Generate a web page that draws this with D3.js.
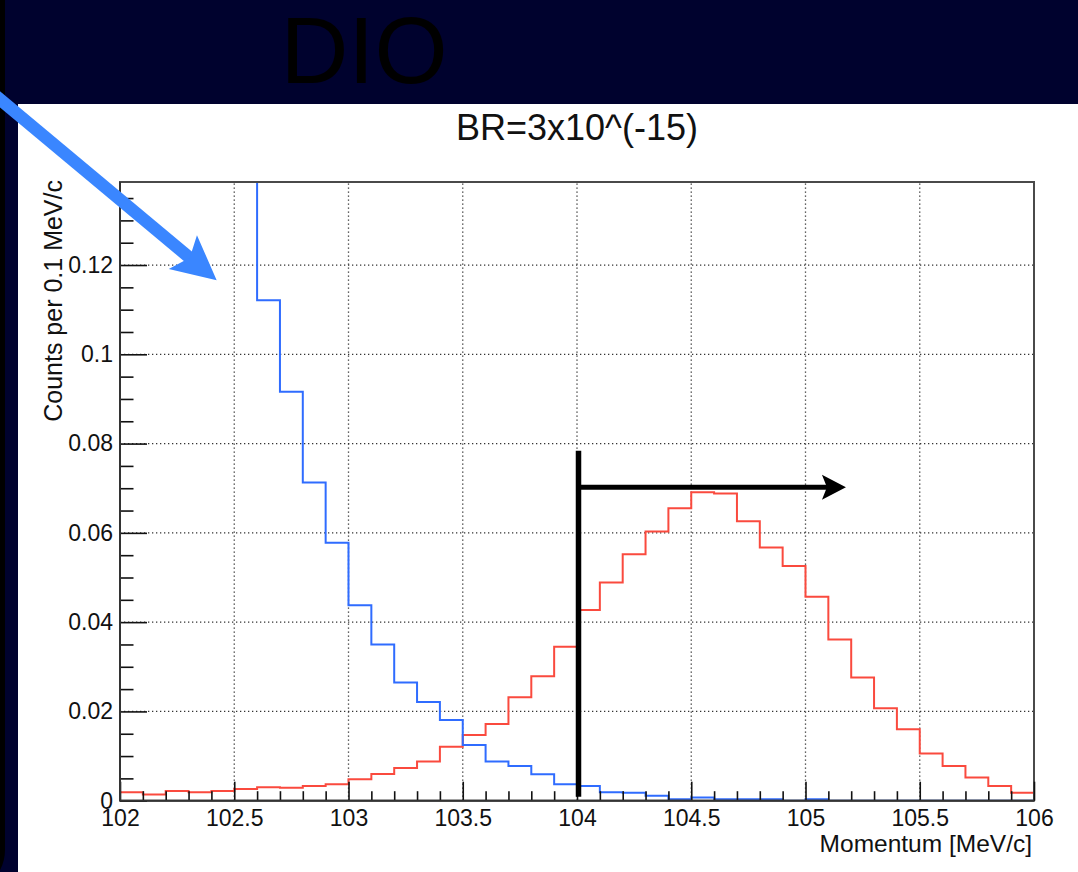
<!DOCTYPE html>
<html>
<head>
<meta charset="utf-8">
<script src="https://cdn.jsdelivr.net/npm/d3@7"></script>
<style>
  html, body { margin: 0; padding: 0; background: #fff; }
  svg { display: block; }
  text { font-family: "Liberation Sans", Arial, Helvetica, sans-serif; }
</style>
</head>
<body>
<script>
// ---------------- data ----------------
const binEdgesStart = 102.0;   // first bin low edge (MeV/c)
const binWidth = 0.1;          // MeV/c
const nBins = 40;

// DIO background (blue) – counts per 0.1 MeV/c, bins 102.0 .. 105.9 (first bins are off-scale)
const dioCounts = [
  0.35, 0.30, 0.25, 0.205, 0.17, 0.142,
  0.1121, 0.0916, 0.0713, 0.0578,
  0.0438, 0.0350, 0.0265, 0.0221, 0.0181,
  0.0125, 0.0088, 0.0078, 0.0059, 0.0037,
  0.0033, 0.0019, 0.0018, 0.0011, 0.0003,
  0.0007, 0.0003, 0.0003, 0.0003, 0.0,
  0.0003, 0.0, 0.0, 0.0, 0.0,
  0.0, 0.0, 0.0, 0.0, 0.0
];

// Conversion signal (red), BR = 3x10^-15
const signalCounts = [
  0.0019, 0.0014, 0.0022, 0.0019, 0.0022,
  0.0026, 0.0030, 0.0029, 0.0033, 0.0037,
  0.0048, 0.0060, 0.0073, 0.0088, 0.0121,
  0.0147, 0.0172, 0.0232, 0.0279, 0.0345,
  0.0427, 0.0489, 0.0552, 0.0603, 0.0655,
  0.0691, 0.0688, 0.0626, 0.0567, 0.0526,
  0.0457, 0.0361, 0.0276, 0.0207, 0.0160,
  0.0106, 0.0078, 0.0052, 0.0033, 0.0018
];

const xMajorTicks = [102, 102.5, 103, 103.5, 104, 104.5, 105, 105.5, 106];
const xTickLabels = ["102", "102.5", "103", "103.5", "104", "104.5", "105", "105.5", "106"];
const yMajorTicks = [0, 0.02, 0.04, 0.06, 0.08, 0.1, 0.12];
const yTickLabels = ["0", "0.02", "0.04", "0.06", "0.08", "0.1", "0.12"];
const xDomain = [102, 106];
const yDomain = [0, 0.1386];

const slideTitle = "DIO";
const plotTitle = "BR=3x10^(-15)";
const xTitle = "Momentum [MeV/c]";
const yTitle = "Counts per 0.1 MeV/c";

// annotations (data coordinates)
const cutMomentum = 104.0;
const cutLineRange = [0.0009, 0.0784];
const cutArrowLevel = 0.0702;
const cutArrowEnd = 105.177;
const dioArrowFrom = [101.43, 0.159];
const dioArrowTo = [102.423, 0.1166];

// ---------------- layout ----------------
const W = 1078, H = 872;
const plot = { left: 120, right: 1034, top: 182, bottom: 800.7 };

const svg = d3.select("body").append("svg").attr("width", W).attr("height", H);
svg.append("rect").attr("width", W).attr("height", H).attr("fill", "#fff");

const x = d3.scaleLinear().domain(xDomain).range([plot.left, plot.right]);
const y = d3.scaleLinear().domain(yDomain).range([plot.bottom, plot.top]);

// slide decoration: dark banner + left strip
svg.append("rect").attr("x", 0).attr("y", 0).attr("width", W).attr("height", 104).attr("fill", "#00022e");
svg.append("rect").attr("x", 0).attr("y", 0).attr("width", 18).attr("height", H).attr("fill", "#00022e");
svg.append("path")
  .attr("d", "M2.5,0 L2.5,850 Q2.5,862 -4,872")
  .attr("fill", "none").attr("stroke", "#000").attr("stroke-width", 5);

svg.append("text")
  .attr("x", 364).attr("y", 83)
  .attr("text-anchor", "middle")
  .attr("font-size", 94)
  .attr("fill", "#000")
  .text(slideTitle);

// plot title
svg.append("text")
  .attr("x", (plot.left + plot.right) / 2).attr("y", 140)
  .attr("text-anchor", "middle")
  .attr("font-size", 36)
  .attr("fill", "#111")
  .text(plotTitle);

// grid
const grid = svg.append("g").attr("stroke", "#333").attr("stroke-width", 1.3).attr("stroke-dasharray", "1.3,2.7");
xMajorTicks.filter(v => v > xDomain[0] && v < xDomain[1]).forEach(v => {
  grid.append("line").attr("x1", x(v)).attr("x2", x(v)).attr("y1", plot.bottom).attr("y2", plot.top);
});
yMajorTicks.filter(v => v > yDomain[0]).forEach(v => {
  grid.append("line").attr("y1", y(v)).attr("y2", y(v)).attr("x1", plot.left).attr("x2", plot.right);
});

// histograms
svg.append("clipPath").attr("id", "plotclip")
  .append("rect").attr("x", plot.left).attr("y", plot.top)
  .attr("width", plot.right - plot.left).attr("height", plot.bottom - plot.top);

function stepPoints(vals) {
  const pts = [];
  vals.forEach((v, i) => {
    const lo = binEdgesStart + i * binWidth;
    const hi = binEdgesStart + (i + 1) * binWidth;
    pts.push([lo, v], [hi, v]);
  });
  return pts;
}
const line = d3.line().x(d => x(d[0])).y(d => y(d[1]));
const hg = svg.append("g").attr("clip-path", "url(#plotclip)").attr("fill", "none").attr("stroke-width", 2);
hg.append("path").attr("d", line(stepPoints(signalCounts))).attr("stroke", "#fa4a3e");
hg.append("path").attr("d", line(stepPoints(dioCounts))).attr("stroke", "#2f6cff");

// frame
svg.append("rect")
  .attr("x", plot.left).attr("y", plot.top)
  .attr("width", plot.right - plot.left).attr("height", plot.bottom - plot.top)
  .attr("fill", "none").attr("stroke", "#4a4a4a").attr("stroke-width", 2);

// axes
const xMinor = d3.range(0, nBins + 1).map(i => binEdgesStart + i * binWidth)
  .filter(v => !xMajorTicks.some(m => Math.abs(m - v) < 1e-6));
const yMinor = d3.range(0, 28).map(i => i * 0.005)
  .filter(v => v <= yDomain[1] && !yMajorTicks.some(m => Math.abs(m - v) < 1e-6));

function styleAxis(g) {
  g.select(".domain").remove();
  g.selectAll(".tick line").attr("stroke", "#111").attr("stroke-width", 1.6);
  g.selectAll(".tick text").attr("fill", "#111").attr("font-size", 23)
    .style("font-family", "'Liberation Sans', Arial, sans-serif");
}

svg.append("g").attr("transform", `translate(0,${plot.bottom})`)
  .call(d3.axisBottom(x).tickValues(xMajorTicks).tickSize(-19).tickPadding(9)
    .tickFormat((d, i) => xTickLabels[i]))
  .call(styleAxis);
svg.append("g").attr("transform", `translate(0,${plot.bottom})`)
  .call(d3.axisBottom(x).tickValues(xMinor).tickSize(-9.5).tickFormat(""))
  .call(styleAxis);

svg.append("g").attr("transform", `translate(${plot.left},0)`)
  .call(d3.axisLeft(y).tickValues(yMajorTicks).tickSize(-27).tickPadding(7)
    .tickFormat((d, i) => yTickLabels[i]))
  .call(styleAxis);
svg.append("g").attr("transform", `translate(${plot.left},0)`)
  .call(d3.axisLeft(y).tickValues(yMinor).tickSize(-13.5).tickFormat(""))
  .call(styleAxis);

// axis lines
svg.append("line").attr("x1", plot.left).attr("x2", plot.right).attr("y1", plot.bottom).attr("y2", plot.bottom)
  .attr("stroke", "#333").attr("stroke-width", 2);
svg.append("line").attr("x1", plot.left).attr("x2", plot.left).attr("y1", plot.top).attr("y2", plot.bottom)
  .attr("stroke", "#333").attr("stroke-width", 2);

// axis titles
svg.append("text")
  .attr("x", plot.right - 2).attr("y", 852)
  .attr("text-anchor", "end").attr("font-size", 24.5).attr("fill", "#111")
  .text(xTitle);
svg.append("text")
  .attr("transform", `translate(61.5,${plot.top - 2}) rotate(-90)`)
  .attr("text-anchor", "end").attr("font-size", 25).attr("fill", "#111")
  .text(yTitle);

// cut annotation (black line + arrow)
svg.append("line")
  .attr("x1", x(cutMomentum) + 1.5).attr("x2", x(cutMomentum) + 1.5)
  .attr("y1", y(cutLineRange[0])).attr("y2", y(cutLineRange[1]))
  .attr("stroke", "#000").attr("stroke-width", 5.5);

function arrow(g, x0, y0, x1, y1, width, headLen, headHalf, notch, color) {
  const dx = x1 - x0, dy = y1 - y0, L = Math.hypot(dx, dy);
  const ux = dx / L, uy = dy / L, nx = -uy, ny = ux;
  const bx = x1 - ux * headLen, by = y1 - uy * headLen;
  const cx = bx + ux * notch, cy = by + uy * notch;
  g.append("line").attr("x1", x0).attr("y1", y0).attr("x2", cx + ux * 1).attr("y2", cy + uy * 1)
    .attr("stroke", color).attr("stroke-width", width);
  g.append("path")
    .attr("d", `M${x1},${y1} L${bx + nx * headHalf},${by + ny * headHalf} L${cx},${cy} L${bx - nx * headHalf},${by - ny * headHalf} Z`)
    .attr("fill", color);
}
const ann = svg.append("g");
arrow(ann, x(cutMomentum) - 1, y(cutArrowLevel), x(cutArrowEnd), y(cutArrowLevel), 5, 24, 12.5, 5, "#000");
arrow(ann, x(dioArrowFrom[0]), y(dioArrowFrom[1]), x(dioArrowTo[0]), y(dioArrowTo[1]), 12.5, 44, 22, 9, "#3a86ff");
</script>
</body>
</html>
